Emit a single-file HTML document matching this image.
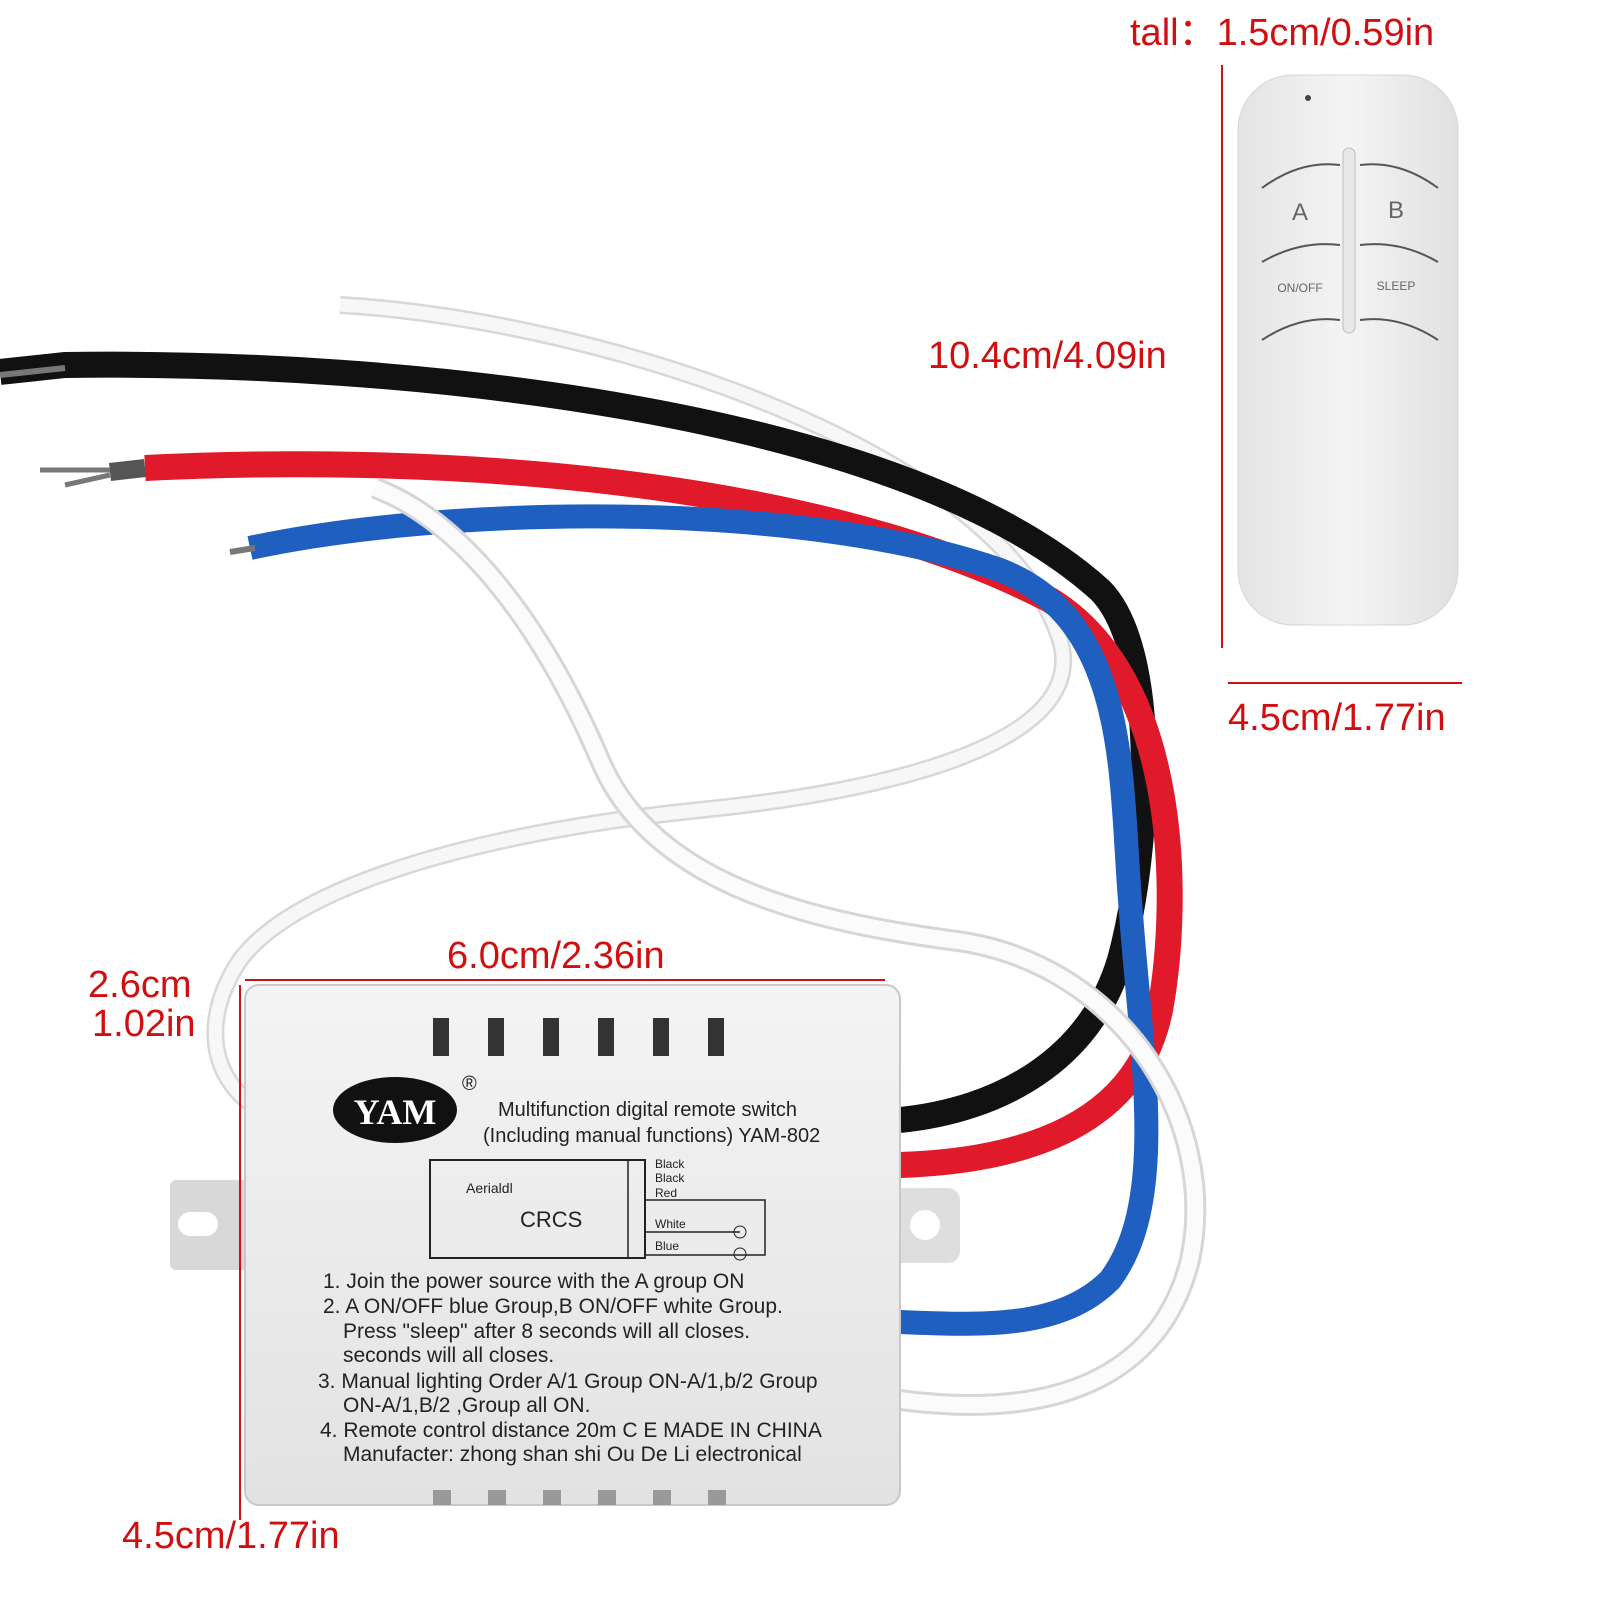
<!DOCTYPE html>
<html><head><meta charset="utf-8"><style>
html,body{margin:0;padding:0;background:#fff;}
svg{display:block}
text{font-family:"Liberation Sans",sans-serif}
</style></head><body>
<svg width="1600" height="1600" viewBox="0 0 1600 1600" xmlns="http://www.w3.org/2000/svg">
<defs>
<linearGradient id="box" x1="0" y1="0" x2="0" y2="1">
<stop offset="0" stop-color="#f4f4f4"/><stop offset="1" stop-color="#e2e2e2"/></linearGradient>
<linearGradient id="rem" x1="0" y1="0" x2="1" y2="0">
<stop offset="0" stop-color="#e4e4e4"/><stop offset="0.5" stop-color="#f4f4f4"/><stop offset="1" stop-color="#e0e0e0"/></linearGradient>
</defs>
<rect width="1600" height="1600" fill="#fff"/>
<path d="M340 305 C600 320 1000 450 1060 640 C1090 740 900 790 700 810 C500 830 300 880 240 960 C200 1020 210 1080 260 1110" fill="none" stroke="#d8d8d8" stroke-width="18"/>
<path d="M340 305 C600 320 1000 450 1060 640 C1090 740 900 790 700 810 C500 830 300 880 240 960 C200 1020 210 1080 260 1110" fill="none" stroke="#f7f7f7" stroke-width="13"/>
<path d="M0 372 L65 365 C400 360 900 410 1100 590 C1160 650 1150 850 1120 960 C1090 1060 1000 1110 900 1120" fill="none" stroke="#111" stroke-width="26"/>
<line x1="0" y1="375" x2="65" y2="368" stroke="#777" stroke-width="6"/>
<path d="M145 468 C400 455 800 470 1050 600 C1180 680 1180 900 1160 1010 C1140 1110 1050 1160 900 1165" fill="none" stroke="#e01a2a" stroke-width="26"/>
<path d="M110 472 L145 468" stroke="#555" stroke-width="18"/>
<line x1="40" y1="470" x2="110" y2="470" stroke="#777" stroke-width="5"/>
<line x1="65" y1="485" x2="110" y2="475" stroke="#777" stroke-width="5"/>
<path d="M250 548 C450 505 800 500 1000 570 C1130 620 1120 780 1130 900 C1140 1050 1170 1200 1110 1280 C1060 1330 980 1325 900 1322" fill="none" stroke="#1f5fc0" stroke-width="24"/>
<line x1="230" y1="552" x2="255" y2="548" stroke="#777" stroke-width="6"/>
<path d="M375 488 C460 520 540 620 600 760 C650 880 800 920 950 940 C1120 960 1220 1120 1190 1260 C1160 1380 1050 1420 900 1400" fill="none" stroke="#d6d6d6" stroke-width="22"/>
<path d="M375 488 C460 520 540 620 600 760 C650 880 800 920 950 940 C1120 960 1220 1120 1190 1260 C1160 1380 1050 1420 900 1400" fill="none" stroke="#fbfbfb" stroke-width="16"/>
<rect x="170" y="1180" width="90" height="90" rx="6" fill="#d8d8d8"/>
<rect x="178" y="1212" width="40" height="24" rx="12" fill="#fff"/>
<rect x="885" y="1188" width="75" height="75" rx="12" fill="#dedede"/>
<rect x="910" y="1210" width="30" height="30" rx="15" fill="#fff"/>
<rect x="245" y="985" width="655" height="520" rx="14" fill="url(#box)" stroke="#c8c8c8" stroke-width="2"/>
<g fill="#333">
<rect x="433" y="1018" width="16" height="38"/><rect x="488" y="1018" width="16" height="38"/><rect x="543" y="1018" width="16" height="38"/><rect x="598" y="1018" width="16" height="38"/><rect x="653" y="1018" width="16" height="38"/><rect x="708" y="1018" width="16" height="38"/>
</g>
<g fill="#999">
<rect x="433" y="1490" width="18" height="15"/><rect x="488" y="1490" width="18" height="15"/><rect x="543" y="1490" width="18" height="15"/><rect x="598" y="1490" width="18" height="15"/><rect x="653" y="1490" width="18" height="15"/><rect x="708" y="1490" width="18" height="15"/>
</g>
<ellipse cx="395" cy="1110" rx="62" ry="33" fill="#111"/>
<text x="395" y="1124" font-size="36" font-weight="bold" fill="#fff" text-anchor="middle" style="font-family:'Liberation Serif',serif">YAM</text>
<text x="462" y="1090" font-size="20" fill="#222">®</text>
<text x="498" y="1116" font-size="20" fill="#222">Multifunction digital remote switch</text>
<text x="483" y="1142" font-size="20" fill="#222">(Including manual functions)  YAM-802</text>
<rect x="430" y="1160" width="215" height="98" fill="none" stroke="#222" stroke-width="2"/>
<rect x="628" y="1160" width="17" height="98" fill="none" stroke="#222" stroke-width="1.5"/>
<text x="466" y="1193" font-size="14" fill="#222">Aerialdl</text>
<text x="520" y="1227" font-size="22" fill="#222">CRCS</text>
<text x="655" y="1168" font-size="12" fill="#222">Black</text>
<text x="655" y="1182" font-size="12" fill="#222">Black</text>
<text x="655" y="1197" font-size="12" fill="#222">Red</text>
<text x="655" y="1228" font-size="12" fill="#222">White</text>
<text x="655" y="1250" font-size="12" fill="#222">Blue</text>
<path d="M645 1200 H765 V1255 H645 M645 1232 H740" fill="none" stroke="#222" stroke-width="1.5"/>
<circle cx="740" cy="1232" r="6" fill="none" stroke="#222"/><circle cx="740" cy="1254" r="6" fill="none" stroke="#222"/>
<g font-size="21" fill="#222">
<text x="323" y="1288">1. Join the power source with the A group ON</text>
<text x="323" y="1313">2. A ON/OFF blue Group,B ON/OFF white Group.</text>
<text x="343" y="1338">Press "sleep" after 8 seconds will all closes.</text>
<text x="343" y="1362">seconds will all closes.</text>
<text x="318" y="1388">3. Manual lighting Order A/1 Group ON-A/1,b/2 Group</text>
<text x="343" y="1412">ON-A/1,B/2 ,Group all ON.</text>
<text x="320" y="1437">4. Remote control distance 20m  C E  MADE IN CHINA</text>
<text x="343" y="1461">Manufacter: zhong shan shi Ou De Li electronical</text>
</g>
<rect x="1238" y="75" width="220" height="550" rx="55" fill="url(#rem)" stroke="#d6d6d6"/>
<circle cx="1308" cy="98" r="3" fill="#444"/>
<rect x="1343" y="148" width="12" height="185" rx="6" fill="#e8e8e8" stroke="#bbb"/>
<g fill="none" stroke="#555" stroke-width="2">
<path d="M1262 188 Q1300 160 1340 165"/><path d="M1360 165 Q1400 160 1438 188"/>
<path d="M1262 262 Q1300 240 1340 245"/><path d="M1360 245 Q1400 240 1438 262"/>
<path d="M1262 340 Q1300 315 1340 320"/><path d="M1360 320 Q1400 315 1438 340"/>
</g>
<text x="1300" y="220" font-size="24" fill="#666" text-anchor="middle">A</text>
<text x="1396" y="218" font-size="24" fill="#666" text-anchor="middle">B</text>
<text x="1300" y="292" font-size="12" fill="#666" text-anchor="middle">ON/OFF</text>
<text x="1396" y="290" font-size="12" fill="#666" text-anchor="middle">SLEEP</text>
<g stroke="#d01010" stroke-width="2">
<line x1="1222" y1="65" x2="1222" y2="648"/>
<line x1="1228" y1="683" x2="1462" y2="683"/>
<line x1="245" y1="980" x2="885" y2="980"/>
<line x1="240" y1="985" x2="240" y2="1520"/>
</g>
<g fill="#d01010" font-size="38">
<text x="1130" y="45">tall：1.5cm/0.59in</text>
<text x="928" y="368">10.4cm/4.09in</text>
<text x="1228" y="730">4.5cm/1.77in</text>
<text x="447" y="968">6.0cm/2.36in</text>
<text x="88" y="997">2.6cm</text>
<text x="92" y="1036">1.02in</text>
<text x="122" y="1548">4.5cm/1.77in</text>
</g>
</svg>
</body></html>
